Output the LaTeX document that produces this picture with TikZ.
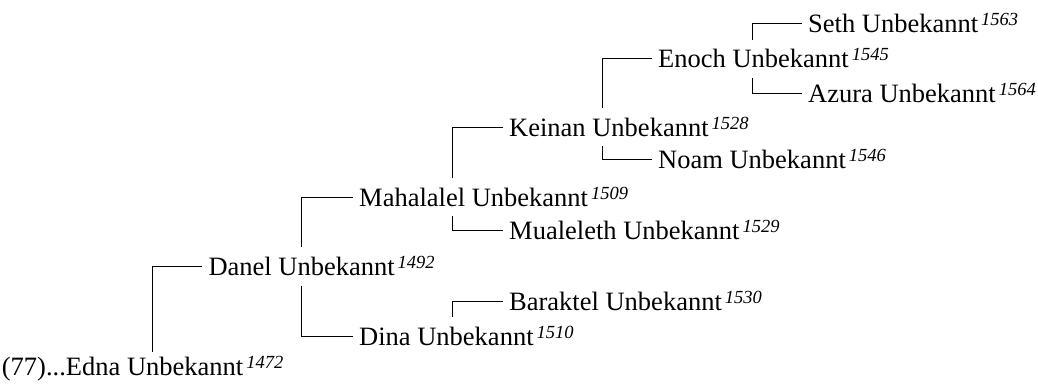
\documentclass[tikz,border=0pt]{standalone}
\usepackage{fontspec}
\setmainfont{Liberation Serif}
\newcommand{\yr}[1]{\hspace{3pt}\raisebox{7pt}{\fontsize{18.5}{18.5}\selectfont\itshape #1}}
\tikzset{
  person/.style={anchor=west,inner xsep=6.5pt,inner ysep=0pt,
    text height=18pt,text depth=0pt,font=\fontsize{26.5}{30}\selectfont},
  link/.style={line width=1pt},
  upper/.style={xshift=#1,yshift=10pt},
  upper/.default=100pt,
  lower/.style={xshift=#1,yshift=-10pt},
  lower/.default=100pt
}
\begin{document}
\begin{tikzpicture}[x=1pt,y=-1pt]
\useasboundingbox (0,0) rectangle (1038,387);
% generations, left to right
\node[person] (edna) at (-4.8,366) {(77)...Edna Unbekannt\yr{1472}};
\node[person] (danel) at (201.8,266.7) {Danel Unbekannt\yr{1492}};
\node[person] (mahalalel) at (352.5,197.3) {Mahalalel Unbekannt\yr{1509}};
\node[person] (dina) at (352.5,336) {Dina Unbekannt\yr{1510}};
\node[person] (keinan) at (502.5,127.3) {Keinan Unbekannt\yr{1528}};
\node[person] (mualeleth) at (502.5,230.7) {Mualeleth Unbekannt\yr{1529}};
\node[person] (baraktel) at (502.5,301.7) {Baraktel Unbekannt\yr{1530}};
\node[person] (enoch) at (651.5,59) {Enoch Unbekannt\yr{1545}};
\node[person] (noam) at (651.5,160) {Noam Unbekannt\yr{1546}};
\node[person] (seth) at (801.5,24) {Seth Unbekannt\yr{1563}};
\node[person] (azura) at (801.5,93.3) {Azura Unbekannt\yr{1564}};
% branches
\draw[link] ([xshift=157pt,yshift=5pt]edna.north west) |- (danel.west);
\draw[link] ([upper]danel.north west) |- (mahalalel.west);
\draw[link] ([lower]danel.south west) |- (dina.west);
\draw[link] ([upper]mahalalel.north west) |- (keinan.west);
\draw[link] ([lower]mahalalel.south west) |- (mualeleth.west);
\draw[link] ([upper]dina.north west) |- (baraktel.west);
\draw[link] ([upper]keinan.north west) |- (enoch.west);
\draw[link] ([lower]keinan.south west) |- (noam.west);
\draw[link] ([upper=101pt]enoch.north west) |- (seth.west);
\draw[link] ([lower=101pt]enoch.south west) |- (azura.west);
\end{tikzpicture}
\end{document}
